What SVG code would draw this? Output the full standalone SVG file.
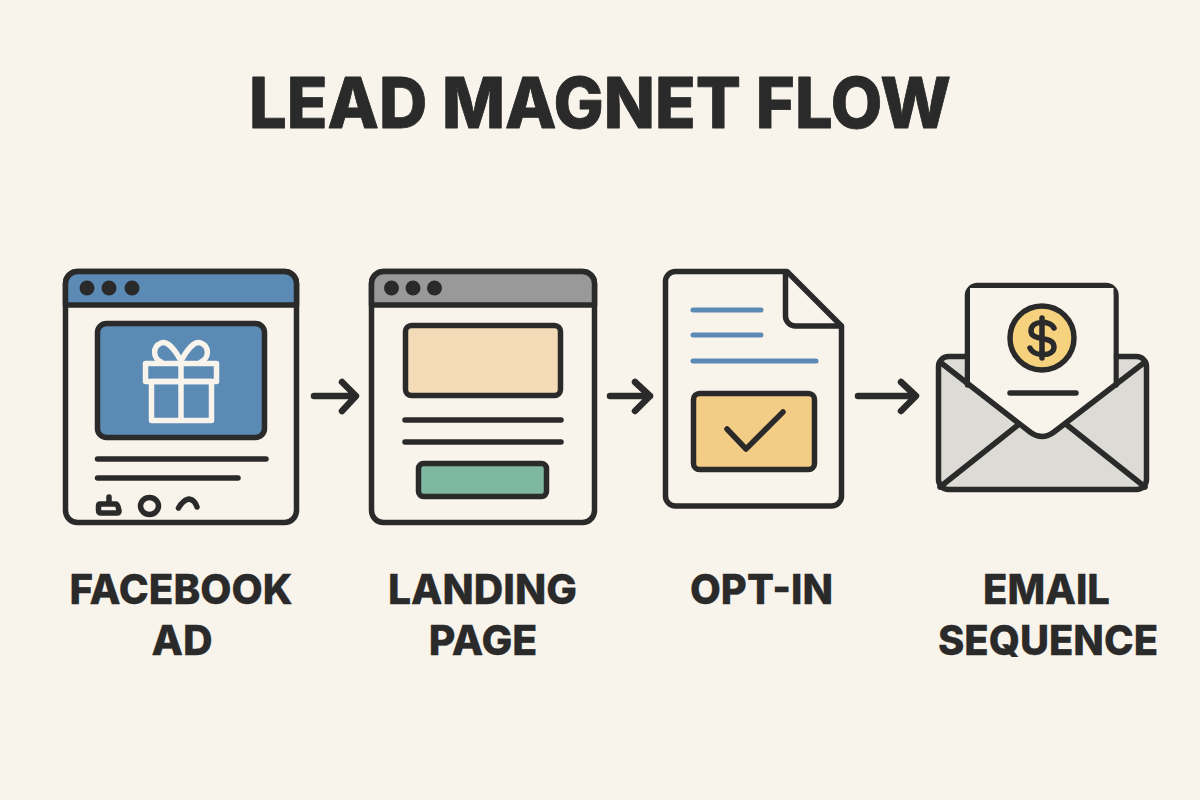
<svg xmlns="http://www.w3.org/2000/svg" width="1200" height="800" viewBox="0 0 1200 800">
<style>
.s{stroke:#2a2a2a;stroke-width:5.500;stroke-linecap:round;stroke-linejoin:round}
.p{fill:#f8f4ec}
.n{fill:none}
.w{fill:none;stroke:#f8f4ec;stroke-width:5.500;stroke-linecap:round;stroke-linejoin:round}
.b{fill:none;stroke:#5b8ab5;stroke-width:5;stroke-linecap:round}
.d{fill:#2a2a2a}
.a{fill:none;stroke:#2a2a2a;stroke-width:6.500;stroke-linecap:round;stroke-linejoin:round}
text{font-family:"Inter","Liberation Sans",sans-serif;font-weight:800;fill:#2a2a2a;text-anchor:middle;stroke:#2a2a2a;stroke-linejoin:round}
.t{font-size:70px;stroke-width:.8}
.l{font-size:41px;stroke-width:.3}
</style>
<rect width="1200" height="800" fill="#f8f4ec"/>
<text id="title" class="t" x="600" y="128" textLength="702" lengthAdjust="spacingAndGlyphs">LEAD MAGNET FLOW</text>

<g id="facebook-ad">
<rect class="s p" x="65.500" y="271.500" width="231" height="251" rx="12"/>
<path class="s" fill="#5b8ab5" d="M65.500 305V283.500a12 12 0 0 1 12-12h207a12 12 0 0 1 12 12V305Z"/>
<circle class="d" cx="87" cy="288" r="7.500"/><circle class="d" cx="109" cy="288" r="7.500"/><circle class="d" cx="132" cy="288" r="7.500"/>
<rect class="s" fill="#5b8ab5" x="97.500" y="323.500" width="167" height="114" rx="9"/>
<g id="gift">
<rect class="w" x="145.500" y="363.500" width="71" height="18"/>
<rect class="w" x="151.500" y="381.500" width="60" height="39"/>
<path class="w" d="M181 363V420M181 361C173 346 166 341 161 343C152 347 153 358 161 362M181 361C189 346 196 341 201 343C210 347 209 358 201 362"/>
</g>
<path class="s n" d="M97.500 459H266M97.500 478H238"/>
<path class="s n" d="M109 497V503M100 504H116Q118 504 119 511Q119 513 117 513H101Q98.500 513 98.500 510V506Q98.500 504 100 504Z"/>
<ellipse class="s n" cx="149.500" cy="506" rx="9" ry="8.500"/>
<path class="s n" d="M178.500 508Q183 500 189 499Q195 500 197 507"/>
</g>

<g id="landing-page">
<rect class="s p" x="371.500" y="271.500" width="223" height="251" rx="12"/>
<path class="s" fill="#999999" d="M371.500 305V283.500a12 12 0 0 1 12-12h199a12 12 0 0 1 12 12V305Z"/>
<circle class="d" cx="391.500" cy="288" r="7.500"/><circle class="d" cx="413" cy="288" r="7.500"/><circle class="d" cx="434.500" cy="288" r="7.500"/>
<rect class="s" fill="#f2dbb6" x="405.500" y="325.500" width="155" height="70" rx="6"/>
<path class="s n" d="M405 420H561M405 442H561"/>
<rect class="s" fill="#7eb8a0" x="418.500" y="463.500" width="128" height="33" rx="5"/>
</g>

<g id="opt-in">
<path class="s p" d="M675.500 271.500H787L841.500 326V496a10 10 0 0 1-10 10H675.500a10 10 0 0 1-10-10V281.500a10 10 0 0 1 10-10Z"/>
<path class="s n" d="M785.500 273V316a10 10 0 0 0 10 10H841"/>
<path class="b" d="M693 310H761M693 335H761M693 361H816"/>
<rect class="s" fill="#f3cd85" x="693.500" y="393.500" width="121" height="76" rx="6"/>
<path class="s n" d="M727 429L746 449L783 412"/>
</g>

<g id="email-sequence">
<rect class="s" fill="#dddbd6" x="938.500" y="356.500" width="208" height="133" rx="10"/>
<path class="s n" d="M967.500 385V295.500a10 10 0 0 1 10-10H1106a10 10 0 0 1 10 10V385"/>
<path class="p" d="M970 385V288H1113.500V385L1054 432Q1042 441 1030 432Z"/>
<path class="s n" d="M940 362L1030 432Q1042 441 1054 432L1145 362"/>
<path class="s n" d="M940 487L1018 425M1145 487L1067 425"/>
<circle class="s" fill="#f6d27f" cx="1042" cy="338" r="32"/>
<path class="s n" d="M1054 328C1050 320 1031 320 1031 331C1031 342 1054 335 1054 347C1054 357 1034 357 1030 348M1042 318V358"/>
<path class="s n" d="M1010 393H1076"/>
</g>

<g id="connectors">
<path class="a" d="M314 396H355M342 382L356 396L342 411"/>
<path class="a" d="M610 396H650M635 382L650 396L635 411"/>
<path class="a" d="M858 396H915M901 382L916 396L901 411"/>
</g>

<g id="labels">
<text class="l" x="181" y="604" textLength="223" lengthAdjust="spacingAndGlyphs">FACEBOOK</text>
<text class="l" x="182" y="655">AD</text>
<text class="l" x="482.500" y="604" textLength="189" lengthAdjust="spacingAndGlyphs">LANDING</text>
<text class="l" x="483" y="655">PAGE</text>
<text class="l" x="761.500" y="604" textLength="143" lengthAdjust="spacingAndGlyphs">OPT-IN</text>
<text class="l" x="1046.500" y="604" textLength="127" lengthAdjust="spacingAndGlyphs">EMAIL</text>
<text class="l" x="1048" y="655" textLength="220" lengthAdjust="spacingAndGlyphs">SEQUENCE</text>
</g>
</svg>
